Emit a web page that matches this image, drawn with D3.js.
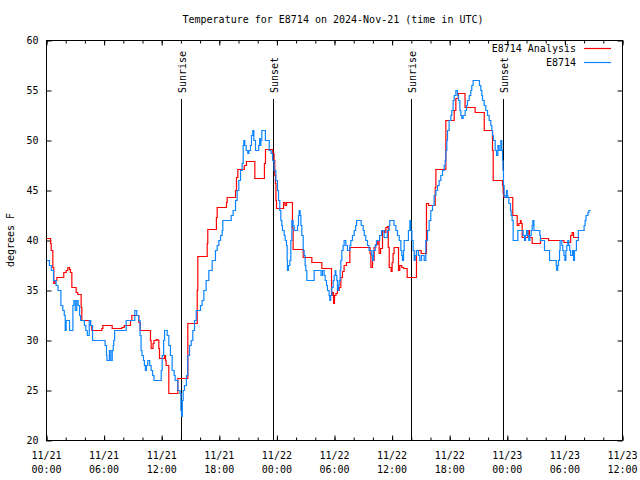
<!DOCTYPE html>
<html>
<head>
<meta charset="utf-8">
<script src="https://cdn.jsdelivr.net/npm/d3@7"></script>
<style>
  body { margin: 0; background: #fff; }
  svg text { font-family: "DejaVu Sans Mono", "Liberation Mono", monospace; font-size: 10px; fill: #000; }
</style>
</head>
<body>
<svg id="chart" width="640" height="480"></svg>
<script>
// hours after 2024-11-21 00:00 UTC, temperature in F (value holds until next point)
const obsHours = [0,0.3,0.5,0.73,1.0,1.2,1.5,1.7,1.85,1.95,2.05,2.4,2.75,2.85,3.0,3.15,3.3,3.45,3.55,3.95,4.1,4.25,4.45,4.6,4.8,6.1,6.25,6.3,6.55,6.7,6.85,6.95,7.0,7.1,8.3,9.2,9.4,9.6,9.75,9.85,9.95,10.1,10.2,10.3,10.4,10.55,10.75,10.9,11.05,11.2,11.95,12.05,12.2,12.3,12.57,12.74,12.91,13.09,13.3,13.4,13.68,13.9,14.0,14.08,14.15,14.24,14.37,14.58,14.72,14.9,15.07,15.24,15.42,15.6,16.04,16.21,16.39,16.63,16.91,17.26,17.6,17.78,17.95,18.13,18.3,18.37,19.24,19.44,19.69,19.86,20.03,20.21,20.38,20.49,20.55,20.66,20.8,20.97,21.08,21.25,21.35,21.49,21.6,21.77,22.1,22.2,22.27,22.33,22.43,22.8,23.2,23.4,23.55,23.7,23.89,24.06,24.17,24.3,24.41,24.51,24.58,24.76,24.86,25.0,25.07,25.1,25.2,25.35,25.45,25.56,25.69,25.8,26.15,26.25,26.32,26.42,26.5,26.6,26.74,26.84,26.94,27.01,27.12,27.88,28.6,28.75,28.92,29.03,29.17,29.27,29.44,29.51,29.6,29.72,29.86,29.97,30.07,30.14,30.24,30.31,30.42,30.49,30.59,30.66,30.76,30.9,31.0,31.18,31.35,31.6,31.7,31.87,32.05,32.2,32.3,32.78,32.99,33.1,33.26,33.44,33.6,33.89,33.96,34.06,34.24,34.37,34.7,34.9,35.17,35.5,35.7,35.76,36.2,36.39,36.56,36.74,36.91,37.01,37.08,37.19,37.26,37.7,37.85,37.95,38.06,38.19,38.3,38.4,38.54,38.75,38.89,39.06,39.34,39.51,39.69,39.86,40.03,40.21,40.38,40.56,40.73,40.9,41.08,41.25,41.42,41.53,41.6,41.7,41.77,41.94,42.12,42.22,42.36,42.47,42.64,42.81,42.92,43.06,43.16,43.26,43.4,43.61,43.75,43.85,44.03,44.2,44.3,44.44,45.1,45.24,45.35,45.42,45.59,45.76,45.94,46.11,46.28,46.39,46.46,46.56,46.74,46.88,47.02,47.15,47.33,47.43,47.5,47.55,47.6,47.67,47.78,47.92,48.0,48.06,48.16,48.33,48.4,48.5,48.61,49.1,49.65,49.79,49.9,50.0,50.14,50.24,50.35,50.49,50.59,50.66,50.77,51.39,51.46,51.875,52.4,53.1,53.15,53.25,53.33,53.44,53.5,53.68,53.78,53.9,54.0,54.1,54.2,54.3,54.4,54.5,54.6,54.8,54.9,55.0,55.2,55.4,56.0,56.1,56.2,56.4,56.5,56.7];
const obsTemps = [38,37.5,37,36,35.5,35,33.5,33,32.5,31,32,31,33.5,34,33,34,33.5,32.5,32,31.5,31,30.5,32,31.5,30,29.5,28.5,28,29,28,29,29.5,30,31,32,33,32.5,32,30.5,29,28.5,28,27.5,27,27.5,28,27.5,27,26.5,26,27,28.5,30,31,30.5,29.5,28.5,27,26.5,26,25,24.7,23,22.4,24,25,25.5,26.5,28.5,29.5,30,31,32,33,33.5,34,35,36,37,38,39,39.5,40,40.5,41,42,42.5,43,44,45,46,47,47.7,49.5,50,49.5,49,48.7,49,49.5,50.5,51,50,49,49.5,50.2,49.5,50,51,50,49,48.7,48,47,46,45,44,43,42,41.5,41,40.5,40,39.5,38,37,37.5,38,40,42,41.5,41,41.5,42.5,43,42.5,41.5,40.5,39,38.5,37.5,37,36,37,36.5,37,36.5,36,35.5,35,34.5,34,34.5,35.3,36,36.5,37,36.5,36,35,35.5,36,37,38,39,39.5,40,39.5,39,39.5,40,40.5,41,41.5,42,41.5,41,40.5,40,39.5,39,38.5,38,39,39.5,40,40.5,41,40.3,41,41.5,42,41.5,41,40.5,40,39,38.5,38,39,40,41,42,41,40,39,38,38.5,39,38.5,38,38.5,38,40,41,42,43,43.5,44.5,45,45.5,46,46.5,47,47.5,48,49,50,51,52,52.5,53,54,54.5,55,54.5,54,53,52.5,52.2,52.5,53,53.5,54,54.5,55,55.5,56,55.5,55,54.5,54,53.5,53,52.5,52,51.5,51,50.5,50,49,48.5,49.5,49,50,49,48,47,45.5,44.5,44.3,45,44.5,44.3,43.7,43,42.5,42,40,41,40.5,40,40.5,41,40.5,40,40.5,41,41.5,42,41,40.5,40,39,38,37.5,37,37.5,38,39,40,39.5,39,38.5,38,39,39.5,40,39.5,39,38.5,39,38,39,40,41,41.5,42,42.5,42.8,43,43];

const anaHours = [0,0.42,0.49,0.66,0.76,0.9,1.08,1.8,2.05,2.22,2.4,2.5,2.64,3.09,3.26,3.61,3.68,4.58,4.72,5.76,5.87,6.84,7.85,8.1,8.75,8.89,9.62,9.76,10.83,10.9,11.1,11.2,11.42,11.6,11.7,11.77,12.29,12.4,12.46,12.74,13.68,14.72,15.7,15.76,16.74,16.8,17.7,17.78,18.75,18.82,19.69,19.79,19.93,20.6,20.83,21.7,22.7,22.81,23.57,23.7,23.78,23.85,23.9,23.96,24.69,24.85,25.0,25.62,25.69,26.74,27.64,28.68,29.69,29.8,29.9,30.0,30.15,30.3,30.49,30.66,30.83,31.0,31.25,31.6,33.7,33.79,33.96,34.13,34.3,34.5,34.65,34.8,35.0,35.2,35.35,35.52,35.6,35.7,35.9,36.0,36.1,36.21,36.67,36.8,37.0,37.2,37.57,38.54,39.03,39.58,39.8,40.49,40.56,41.6,42.47,42.64,42.9,43.6,44.65,45.6,46.46,46.53,47.5,47.57,47.64,48.57,49.03,49.2,49.37,49.44,49.55,50.15,50.3,50.59,51.46,52.3,53.9,54.6,54.75,54.9,55.5];
const anaTemps = [40.2,39.7,39,37.3,35.7,36,36.3,36.8,37,37.3,37.1,36.8,35.3,34.8,34.6,33.3,32,31.5,31,31.2,31.5,31.2,31.3,31.5,32,32.5,31.8,31,30,29.2,29.7,30,30.1,30,29.2,28.2,28.5,28,27.5,24.7,26.2,31.7,35,38.4,39.7,41.1,42.3,43.3,43.8,44.3,45,46.3,47.1,47.5,47.9,46.2,47.7,49.1,48.7,48,46.5,45.7,44,43.2,43.8,43.5,43.8,41.3,39.1,38.3,37.8,37.2,34.5,34.8,33.7,34.5,34.7,35,35.3,36.3,36.9,37.5,37.8,39.3,38.7,37.3,38,39.3,39.6,40,38.7,39.2,41,40.8,41.3,41.4,39.3,37.3,36.9,37.8,38.7,39.3,37,37.5,37.3,37.2,36.3,39,38.7,43.7,43.5,45.3,47.1,52,53,54.2,54.7,53.3,52.8,51,49,46,45.5,44.7,44.3,42.5,41.5,41.7,42,41.7,40.3,41,40.3,39.7,40.2,40,39.8,40.5,40.8,40.3,40.3];

const sunHours = [14.0, 23.6, 37.95, 47.53];
const sunNames = ['Sunrise', 'Sunset', 'Sunrise', 'Sunset'];

const yTicks = [20, 25, 30, 35, 40, 45, 50, 55, 60];

const t0 = Date.UTC(2024, 10, 21);
const toDate = h => new Date(t0 + h * 3600e3);

const svg = d3.select('#chart');
const plotLeft = 46.5, plotRight = 622.5, plotTop = 40.5, plotBottom = 440.5;

const x = d3.scaleUtc()
    .domain([toDate(0), toDate(60)])
    .range([plotLeft, plotRight]);
const y = d3.scaleLinear()
    .domain([20, 60])
    .range([plotBottom, plotTop]);

// ticks, all pointing inward
const xMajor = d3.utcHour.every(6);
const xMinor = d3.utcHour.every(2);
svg.append('g').attr('transform', `translate(0,${plotBottom})`)
    .call(d3.axisBottom(x).ticks(xMinor).tickSize(-3).tickFormat(''));
svg.append('g').attr('transform', `translate(0,${plotBottom})`)
    .call(d3.axisBottom(x).ticks(xMajor).tickSize(-5).tickFormat(''));
svg.append('g').attr('transform', `translate(0,${plotTop})`)
    .call(d3.axisTop(x).ticks(xMinor).tickSize(-3).tickFormat(''));
svg.append('g').attr('transform', `translate(0,${plotTop})`)
    .call(d3.axisTop(x).ticks(xMajor).tickSize(-5).tickFormat(''));
svg.append('g').attr('transform', `translate(${plotLeft},0)`)
    .call(d3.axisLeft(y).tickValues(yTicks).tickSize(-5).tickPadding(8));
svg.append('g').attr('transform', `translate(${plotRight},0)`)
    .call(d3.axisRight(y).tickValues(yTicks).tickSize(-5).tickFormat(''));
svg.selectAll('.domain').remove();
svg.selectAll('.tick line').attr('stroke', '#000');
svg.selectAll('g').attr('font-family', null).attr('font-size', null);

// two-line x tick labels
const fmtDay = d3.utcFormat('%m/%d'), fmtTime = d3.utcFormat('%H:%M');
const xl = svg.append('g').selectAll('text')
    .data(x.ticks(xMajor))
    .enter().append('text')
    .attr('text-anchor', 'middle')
    .attr('x', d => x(d));
xl.append('tspan').attr('x', d => x(d)).attr('y', 459).text(d => fmtDay(d));
xl.append('tspan').attr('x', d => x(d)).attr('y', 473).text(d => fmtTime(d));

// border
svg.append('rect')
    .attr('x', plotLeft).attr('y', plotTop)
    .attr('width', plotRight - plotLeft).attr('height', plotBottom - plotTop)
    .attr('fill', 'none').attr('stroke', '#000');

// sunrise / sunset markers
sunHours.forEach((h, i) => {
    const sx = Math.round(x(toDate(h))) + 0.5;
    svg.append('line')
        .attr('x1', sx).attr('x2', sx)
        .attr('y1', 99).attr('y2', plotBottom)
        .attr('stroke', '#000');
    svg.append('text')
        .attr('transform', `translate(${sx + 4.5},93) rotate(-90)`)
        .text(sunNames[i]);
});

const line = d3.line()
    .x(d => x(toDate(d[0])))
    .y(d => y(d[1]))
    .curve(d3.curveStepAfter);

const obs = d3.zip(obsHours, obsTemps);
const ana = d3.zip(anaHours, anaTemps);

svg.append('path').datum(ana)
    .attr('fill', 'none').attr('stroke', '#ff0000').attr('stroke-width', 1.2)
    .attr('d', line);
svg.append('path').datum(obs)
    .attr('fill', 'none').attr('stroke', '#0a84ff').attr('stroke-width', 1.2)
    .attr('d', line);

// title and axis label
svg.append('text').attr('x', 333).attr('y', 23).attr('text-anchor', 'middle')
    .text('Temperature for E8714 on 2024-Nov-21 (time in UTC)');
svg.append('text').attr('transform', 'translate(14,240) rotate(-90)')
    .attr('text-anchor', 'middle').text('degrees F');

// legend
const legend = [['E8714 Analysis', '#ff0000'], ['E8714', '#0a84ff']];
legend.forEach((d, i) => {
    const ly = 52 + i * 14;
    svg.append('text').attr('x', 576).attr('y', ly).attr('text-anchor', 'end').text(d[0]);
    svg.append('line').attr('x1', 584).attr('x2', 611)
        .attr('y1', ly - 3.5).attr('y2', ly - 3.5)
        .attr('stroke', d[1]).attr('stroke-width', 1.2);
});

if (obsHours.length !== obsTemps.length || anaHours.length !== anaTemps.length) {
    throw new Error(`length mismatch obs ${obsHours.length}/${obsTemps.length} ana ${anaHours.length}/${anaTemps.length}`);
}
</script>
</body>
</html>
